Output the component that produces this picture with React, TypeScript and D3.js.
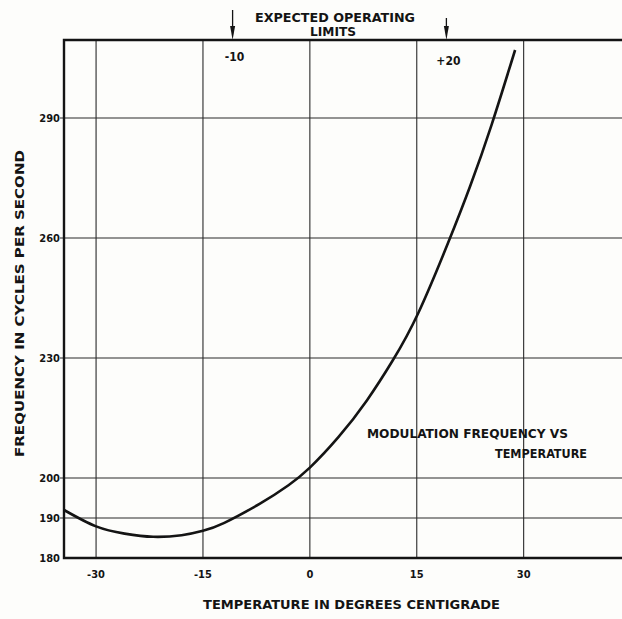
import React, { useEffect, useRef } from 'react';
import * as d3 from 'd3';

// curve: temperature (deg C) -> modulation frequency (cps)
const temps = [-34.5, -30, -26, -22, -18, -15, -12, -7, -3, 0, 4, 8, 11.6, 15.2, 19.4, 22.5, 25.5, 28.8];
const freqs = [192, 187.9, 186.1, 185.3, 185.7, 186.8, 188.8, 193.6, 198.2, 202.6, 210.2, 219.4, 229.3, 241.2, 258.8, 273, 288.3, 307];

const xTicks = [-30, -15, 0, 15, 30];
const xTickLabels = ['-30', '-15', '0', '15', '30'];
const yTicks = [180, 190, 200, 230, 260, 290];
const yTickLabels = ['180', '190', '200', '230', '260', '290'];
const yGrid = [190, 200, 230, 260, 290];

const limits = [-10, 20];
const limitLabels = ['-10', '+20'];

const FONT = '"DejaVu Sans Condensed", "DejaVu Sans", sans-serif';
const INK = '#141414';

export default function App() {
    const ref = useRef<SVGSVGElement | null>(null);

    useEffect(() => {
        const svgWidth = 622, svgHeight = 619;
        const left = 64, right = 622, top = 40, bottom = 558;

        const svg = d3.select(ref.current);
        svg.selectAll('*').remove();
        svg.attr('width', svgWidth).attr('height', svgHeight);

        svg.append('rect').attr('width', svgWidth).attr('height', svgHeight).attr('fill', '#fdfdfb');

        const xScale = d3.scaleLinear().domain([-34.5, 43.8]).range([left, right]);
        const yScale = d3.scaleLinear().domain([180, 309.5]).range([bottom, top]);

        const graph = svg.append('g');

        // grid
        graph.selectAll('line.vgrid')
            .data(xTicks)
            .enter().append('line')
            .attr('class', 'vgrid')
            .attr('x1', d => xScale(d)).attr('x2', d => xScale(d))
            .attr('y1', top).attr('y2', bottom)
            .attr('stroke', '#2a2a2a').attr('stroke-width', 1.1);

        graph.selectAll('line.hgrid')
            .data(yGrid)
            .enter().append('line')
            .attr('class', 'hgrid')
            .attr('x1', left - 4).attr('x2', right)
            .attr('y1', d => yScale(d)).attr('y2', d => yScale(d))
            .attr('stroke', '#2a2a2a').attr('stroke-width', 1.1);

        // frame (left, top, bottom; right side runs off the page)
        graph.append('path')
            .attr('d', `M${right},${top}H${left}V${bottom}H${right}`)
            .attr('fill', 'none')
            .attr('stroke', INK)
            .attr('stroke-width', 2.4);

        // tick labels
        graph.selectAll('text.ylab')
            .data(yTicks)
            .enter().append('text')
            .attr('class', 'ylab')
            .attr('x', left - 4)
            .attr('y', d => yScale(d) + 4)
            .attr('text-anchor', 'end')
            .text((d, i) => yTickLabels[i]);

        graph.selectAll('text.xlab')
            .data(xTicks)
            .enter().append('text')
            .attr('class', 'xlab')
            .attr('x', d => xScale(d))
            .attr('y', bottom + 20)
            .attr('text-anchor', 'middle')
            .text((d, i) => xTickLabels[i]);

        graph.selectAll('text.ylab, text.xlab')
            .attr('font-family', FONT)
            .attr('font-weight', 'bold')
            .attr('font-size', 11)
            .attr('fill', INK);

        // the curve
        const line = d3.line<number>()
            .x(d => xScale(d))
            .y((d, i) => yScale(freqs[i]))
            .curve(d3.curveNatural);

        graph.append('path')
            .datum(temps)
            .attr('fill', 'none')
            .attr('stroke', INK)
            .attr('stroke-width', 2.6)
            .attr('d', line);

        // operating limit arrows
        const arrows = graph.selectAll('g.limit')
            .data(limits)
            .enter().append('g')
            .attr('class', 'limit')
            .attr('transform', d => `translate(${xScale(d) - 6},0)`);

        arrows.append('line')
            .attr('x1', 0).attr('x2', 0)
            .attr('y1', (d, i) => i === 0 ? 10 : 18)
            .attr('y2', 30)
            .attr('stroke', INK).attr('stroke-width', 1.3);

        arrows.append('path')
            .attr('d', `M-2.5,26L2.5,26L0,${top}Z`)
            .attr('fill', INK);

        arrows.append('text')
            .attr('x', 2)
            .attr('y', (d, i) => i === 0 ? 61 : 65)
            .attr('text-anchor', 'middle')
            .attr('font-family', FONT)
            .attr('font-weight', 'bold')
            .attr('font-size', 12)
            .attr('fill', INK)
            .text((d, i) => limitLabels[i]);

        // titles
        const label = (x: number, y: number, txt: string, len: number, size: number) =>
            graph.append('text')
                .attr('x', x).attr('y', y)
                .attr('font-family', FONT)
                .attr('font-weight', 'bold')
                .attr('font-size', size)
                .attr('fill', INK)
                .attr('textLength', len)
                .attr('lengthAdjust', 'spacingAndGlyphs')
                .text(txt);

        label(255, 22, 'EXPECTED OPERATING', 160, 12);
        label(310, 36, 'LIMITS', 46, 12);
        label(367, 438, 'MODULATION FREQUENCY VS', 201, 11.5);
        label(495, 458, 'TEMPERATURE', 92, 11.5);
        label(203, 609, 'TEMPERATURE IN DEGREES CENTIGRADE', 297, 12);

        graph.append('text')
            .attr('transform', 'translate(24,457) rotate(-90)')
            .attr('font-family', FONT)
            .attr('font-weight', 'bold')
            .attr('font-size', 12)
            .attr('fill', INK)
            .attr('textLength', 307)
            .attr('lengthAdjust', 'spacingAndGlyphs')
            .text('FREQUENCY IN CYCLES PER SECOND');
    }, []);

    return (
        <div>
            <svg ref={ref} style={{ position: 'absolute', left: 0, top: 0 }}></svg>
        </div>
    );
}
